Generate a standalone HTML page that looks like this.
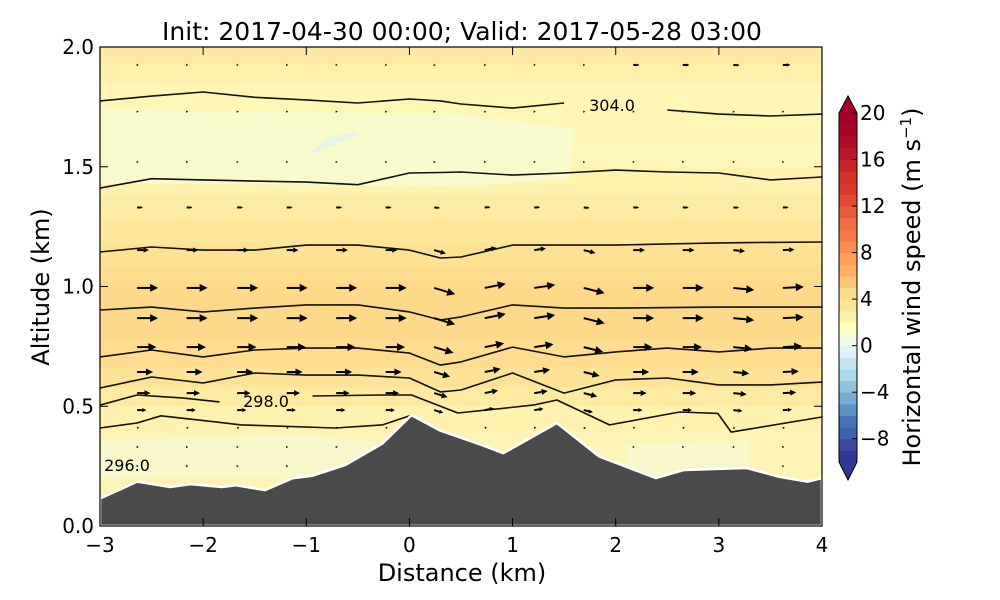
<!DOCTYPE html>
<html><head><meta charset="utf-8"><style>
html,body{margin:0;padding:0;background:#fff;}
svg{display:block;font-family:"DejaVu Sans","Liberation Sans",sans-serif;}
</style></head><body>
<svg id="chart" width="1000" height="600" viewBox="0 0 1000 600">
<defs><clipPath id="plotclip"><rect x="100" y="47" width="722" height="479"/></clipPath></defs>
<text x="462" y="40" font-size="25" text-anchor="middle">Init: 2017-04-30 00:00; Valid: 2017-05-28 03:00</text>
<g id="plot" clip-path="url(#plotclip)"></g>
<g id="axes"></g>
<g id="cbar"></g>
<text x="462" y="581" font-size="24" text-anchor="middle">Distance (km)</text>
<text transform="translate(49,287) rotate(-90)" font-size="24" text-anchor="middle">Altitude (km)</text>
<text transform="translate(920,287) rotate(-90)" font-size="24" text-anchor="middle">Horizontal wind speed (m s<tspan baseline-shift="super" font-size="15">−1</tspan>)</text>
</svg>
<script>
// ---- data ----
const xTicks = [-3,-2,-1,0,1,2,3,4];
const yTicks = [0.0,0.5,1.0,1.5,2.0];
const cbTicks = [-8,-4,0,4,8,12,16,20];
// terrain profile
const terrainX = [-3.0,-2.64,-2.32,-2.12,-1.82,-1.68,-1.40,-1.13,-0.94,-0.62,-0.26,0.02,0.29,0.70,0.91,1.43,1.84,2.39,2.66,3.27,3.59,3.86,4.0];
const terrainZ = [0.115,0.185,0.163,0.175,0.163,0.17,0.15,0.2,0.21,0.255,0.345,0.463,0.4,0.338,0.304,0.43,0.29,0.2,0.234,0.242,0.205,0.185,0.2];
// isentropes (theta contours): x positions and altitudes
const lineX = [-3,-2.5,-2,-1.5,-1,-0.5,0,0.3,0.5,1,1.5,2,2.5,3,3.5,4];
const theta1 = [1.775,1.795,1.812,1.79,1.779,1.766,1.783,1.775,1.762,1.745,1.766,null,1.737,1.72,1.712,1.72];
const theta2 = [1.411,1.45,1.445,1.44,1.436,1.425,1.474,1.476,1.478,1.465,1.474,1.486,1.478,1.474,1.445,1.457];
const theta3 = [1.144,1.165,1.152,1.152,1.173,1.173,1.152,1.119,1.123,1.173,1.173,1.173,1.178,1.182,1.184,1.186];
const theta4 = [0.902,0.914,0.894,0.91,0.923,0.923,0.894,0.86,0.873,0.923,0.91,0.91,0.912,0.914,0.914,0.914];
const theta5 = [0.706,0.735,0.706,0.735,0.743,0.743,0.722,0.672,0.685,0.747,0.706,0.727,0.743,0.727,0.743,0.743];
const theta6 = [0.576,0.622,0.597,0.639,0.63,0.63,0.618,0.56,0.568,0.639,0.555,0.61,0.618,0.589,0.589,0.601];
const theta7X = [-3.0,-2.64,-2.19,-1.84,null,-0.94,-0.26,0.02,0.47,1.2,1.43,1.94,2.62,2.99,3.12,4.0];
const theta7 = [0.505,0.547,0.534,0.518,null,0.543,0.547,0.547,0.472,0.505,0.526,0.422,0.476,0.47,0.392,0.455];
const theta8X = [-3.0,-2.64,-2.41,-1.91,-1.63,-0.72,-0.26,0.02];
const theta8 = [0.409,0.43,0.46,0.436,0.422,0.409,0.422,0.463];
// wind arrows
const colX = [-2.64,-2.16,-1.67,-1.19,-0.71,-0.23,0.24,0.73,1.21,1.69,2.17,2.65,3.14,3.62];
const colW = [0,0,0,0,0,0,-0.3,0.2,0.15,-0.25,0,0,-0.1,0.05];
const rowZ = [1.925,1.73,1.52,1.33,1.152,0.994,0.868,0.747,0.643,0.555,0.484,0.41,0.33,0.25,0.18];
const rowU = [0.2,0.2,0.25,1.4,2.8,5.0,5.0,4.6,3.8,3.2,2.2,0.5,0.2,0.2,0.2];
const topRowU = [0.2,0.2,0.2,0.2,0.2,0.2,0.3,0.3,0.3,0.3,1.5,1.6,1.5,1.8];
// colorbar levels
const cbColors = ["#313695","#3a4b9e","#4064ab","#4575b4","#5d91c3","#74add1","#90c3dd","#abd9e9","#c5e6f0","#e0f3f8","#f1f9e2","#ffffbf","#fff2aa","#fee695","#fedb86","#fdc574","#fdb062","#fca05a","#f88c50","#f57847","#f46d43","#ea5b3a","#e14a33","#d93a2d","#d73027","#c8232a","#bb172a","#b00c28","#a80427","#a50026"];

// ---- axes functions ----
const X0=100,X1=822,Y0=526,Y1=47;
const sx = v => X0 + (v+3)/7*(X1-X0);
const sy = v => Y0 - v/2*(Y0-Y1);
const NS="http://www.w3.org/2000/svg";
function mk(tag, attrs, parent){const e=document.createElementNS(NS,tag);for(const k in attrs)e.setAttribute(k,attrs[k]);parent.appendChild(e);return e;}
const plot=document.getElementById('plot'), axes=document.getElementById('axes'), cbar=document.getElementById('cbar');
function terrainAt(x){for(let i=0;i<terrainX.length-1;i++){if(x>=terrainX[i]&&x<=terrainX[i+1]){const t=(x-terrainX[i])/(terrainX[i+1]-terrainX[i]);return terrainZ[i]+t*(terrainZ[i+1]-terrainZ[i]);}}return 0.2;}

// background filled-contour bands
const bandZ = [2.0,1.93,1.85,1.62,1.5,1.38,1.28,1.18,1.08,1.02,0.78,0.66,0.58,0.5,0.4,0];
const bandC = ["#fee9a2","#feefaa","#fff5b5","#fff7b9","#fff2ae","#feeca4","#fee69b","#fee294","#fedd8f","#fdd98a","#fedd8f","#fee396","#feeaa0","#fff2af","#fdf3b4","#fdf3b4"];
for(let i=0;i<bandZ.length-1;i++){
  const r=mk('rect',{x:X0,y:sy(bandZ[i]),width:X1-X0,height:sy(bandZ[i+1])-sy(bandZ[i])+0.5,fill:bandC[i]},plot);
  
  
}
const pale = mk('path',{d:`M${sx(-3)},${sy(1.74)} L${sx(0.5)},${sy(1.72)} L${sx(1.6)},${sy(1.66)} L${sx(1.55)},${sy(1.45)} L${sx(0.6)},${sy(1.42)} L${sx(-3)},${sy(1.43)} Z`,fill:"#f8f9cd"},plot);


const neg = mk('path',{d:`M${sx(-0.95)},${sy(1.56)} L${sx(-0.5)},${sy(1.64)} L${sx(-0.75)},${sy(1.62)} Z`,fill:"#e6f3e6",stroke:"#e6f3e6","stroke-width":3},plot);


const low = mk('path',{d:`M${sx(-3)},${sy(0.36)} L${sx(-1)},${sy(0.38)} L${sx(-0.3)},${sy(0.35)} L${sx(-0.3)},${sy(0.2)} L${sx(-3)},${sy(0.2)} Z M${sx(2.1)},${sy(0.34)} L${sx(3.3)},${sy(0.36)} L${sx(3.3)},${sy(0.2)} L${sx(2.1)},${sy(0.2)} Z`,fill:"#f8f7cc"},plot);



// isentropes
function drawLine(xs, zs, name){
  let d='', pen=false;
  for(let i=0;i<xs.length;i++){
    if(xs[i]===null||zs[i]===null){pen=false;continue;}
    d += (pen?'L':'M')+sx(xs[i]).toFixed(1)+','+sy(zs[i]).toFixed(1)+' ';
    pen=true;
  }
  const p=mk('path',{d:d,fill:'none',stroke:'#111','stroke-width':1.6,'stroke-linejoin':'round'},plot);
  
  
}
drawLine(lineX,theta1,'isentrope-304');
drawLine(lineX,theta2,'isentrope-2');
drawLine(lineX,theta3,'isentrope-3');
drawLine(lineX,theta4,'isentrope-4');
drawLine(lineX,theta5,'isentrope-5');
drawLine(lineX,theta6,'isentrope-6');
drawLine(theta7X,theta7,'isentrope-298');
drawLine(theta8X,theta8,'isentrope-296');

// wind arrows
const pxPerU = 4.2;
for(let r=0;r<rowZ.length;r++){
  for(let c=0;c<colX.length;c++){
    const x=colX[c], z=rowZ[r];
    if(z < terrainAt(x)+0.03) continue;
    const u = r===0 ? topRowU[c] : rowU[r];
    const len = Math.max(1.5, u*pxPerU);
    const slope = colW[c]*(z<1.3?1:0.3);
    const x0=sx(x), y0=sy(z);
    const dx=len, dy=-slope*len;
    const g=mk('g',{},plot);
    
    
    const ang=Math.atan2(dy,dx);
    const hl=Math.min(8, Math.max(2, len*0.45)), hw=Math.min(4, Math.max(1.2,len*0.22));
    const tx=x0+dx, ty=y0+dy;
    const bx=tx-hl*Math.cos(ang), by=ty-hl*Math.sin(ang);
    if(len>hl) mk('line',{x1:x0,y1:y0,x2:bx,y2:by,stroke:'#000','stroke-width':2},g);
    mk('polygon',{points:`${tx},${ty} ${bx-hw*Math.sin(ang)},${by+hw*Math.cos(ang)} ${bx+hw*Math.sin(ang)},${by-hw*Math.cos(ang)}`,fill:'#000'},g);
  }
}

// contour labels
function lbl(x,y,t,name){const e=mk('text',{x:x,y:y,'font-size':16,'text-anchor':'middle'},plot);e.textContent=t;}
lbl(612,111,'304.0','contour-label-304');
lbl(266,407,'298.0','contour-label-298');
lbl(127,471,'296.0','contour-label-296');

// terrain
let td=`M${sx(-3)},${sy(0)} `;
for(let i=0;i<terrainX.length;i++) td+=`L${sx(terrainX[i]).toFixed(1)},${sy(terrainZ[i]).toFixed(1)} `;
td+=`L${sx(4)},${sy(0)} Z`;
const terr=mk('path',{d:td,fill:'#4a4a4a',stroke:'#ffffff','stroke-width':2.5,'stroke-linejoin':'round'},plot);



// axes frame & ticks
mk('rect',{x:X0,y:Y1,width:X1-X0,height:Y0-Y1,fill:'none',stroke:'#000','stroke-width':1.2},axes);
xTicks.forEach(v=>{
  const x=sx(v);
  mk('line',{x1:x,y1:Y0,x2:x,y2:Y0-8,stroke:'#000'},axes);
  mk('line',{x1:x,y1:Y1,x2:x,y2:Y1+8,stroke:'#000'},axes);
  const t=mk('text',{x:x,y:Y0+26,'font-size':20,'text-anchor':'middle'},axes);
  t.textContent=(v<0?'−':'')+Math.abs(v);
  
  
});
yTicks.forEach(v=>{
  const y=sy(v);
  mk('line',{x1:X0,y1:y,x2:X0+8,y2:y,stroke:'#000'},axes);
  mk('line',{x1:X1,y1:y,x2:X1-8,y2:y,stroke:'#000'},axes);
  const t=mk('text',{x:X0-6,y:y+7,'font-size':20,'text-anchor':'end'},axes);
  t.textContent=v.toFixed(1);
  
  
});

// colorbar
const CBX=839, CBW=18, CBtop=113, CBbot=462;
const cy = v => CBbot - (v+10)/30*(CBbot-CBtop);
for(let i=0;i<cbColors.length;i++){
  const s=mk('rect',{x:CBX,y:cy(-10+i+1),width:CBW,height:cy(-10+i)-cy(-10+i+1)+0.5,fill:cbColors[i]},cbar);
  
  
}
const up=mk('polygon',{points:`${CBX},${CBtop} ${CBX+CBW/2},96 ${CBX+CBW},${CBtop}`,fill:'#a50026'},cbar);


const dn=mk('polygon',{points:`${CBX},${CBbot} ${CBX+CBW/2},480 ${CBX+CBW},${CBbot}`,fill:'#313695'},cbar);


mk('polygon',{points:`${CBX},${CBtop} ${CBX+CBW/2},96 ${CBX+CBW},${CBtop} ${CBX+CBW},${CBbot} ${CBX+CBW/2},480 ${CBX},${CBbot}`,fill:'none',stroke:'#000','stroke-width':1},cbar);
cbTicks.forEach(v=>{
  const y=cy(v);
  mk('line',{x1:CBX+CBW-5,y1:y,x2:CBX+CBW,y2:y,stroke:'#000'},cbar);
  const t=mk('text',{x:CBX+CBW+3,y:y+7,'font-size':20},cbar);
  t.textContent=(v<0?'−':'')+Math.abs(v);
  
  
});
</script>
</body></html>
